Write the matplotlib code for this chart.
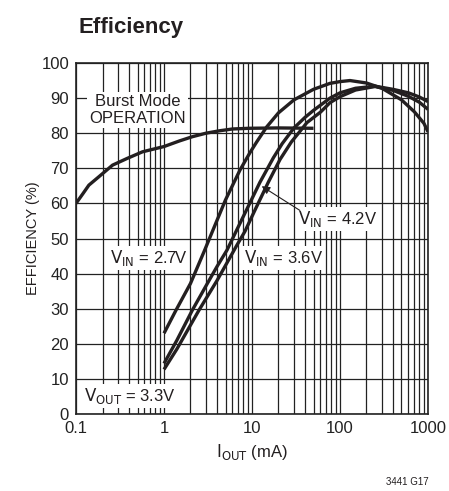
import numpy as np
import matplotlib
matplotlib.use("Agg")
import matplotlib.pyplot as plt
from matplotlib.ticker import FixedLocator, NullFormatter

# values (I_OUT in mA, efficiency in %)
burst_i = [0.1, 0.12, 0.14, 0.18, 0.26, 0.38, 0.57, 1, 1.5, 2.1, 3, 4.3, 6, 9.3, 20, 50]
burst_eff = [60, 62.8, 65.2, 67.5, 70.9, 72.8, 74.7, 76.2, 77.8, 79, 80, 80.7, 81.2, 81.4, 81.5, 81.4]

vin27_i = [1, 1.37, 2, 2.9, 3.6, 5, 7.3, 9.5, 11.3, 14.7, 20, 30, 50, 77, 100, 130, 200, 300, 500, 700, 900, 1000]
vin27_eff = [23, 29.6, 37.2, 46.7, 52.4, 61, 69.5, 74.5, 77.5, 81.8, 85.8, 89.5, 92.5, 94.2, 94.7, 95, 94.3, 92.8, 89.5, 86.1, 82.8, 80.4]

vin36_i = [1, 1.4, 2.1, 3, 4, 5.2, 6.7, 9, 12.3, 17.5, 22, 30, 40, 50, 77, 100, 150, 250, 400, 600, 800, 1000]
vin36_eff = [14.4, 21, 29.6, 36.5, 42, 46.7, 52.4, 59, 66, 73, 77, 81.5, 84.5, 86.5, 90, 91.5, 92.8, 93.4, 92.5, 91.5, 90.3, 89]

vin42_i = [1, 1.4, 2.5, 4, 6.7, 8.3, 11, 15.3, 20.8, 28, 35, 42, 60, 77, 100, 150, 250, 400, 600, 800, 1000]
vin42_eff = [12.7, 18.5, 29.6, 38, 48, 52, 58.5, 66, 72.5, 77.5, 80.5, 83, 86, 88.7, 90.4, 92.3, 93.3, 92.2, 90.5, 88.8, 86.8]

x_ticks = [0.1, 1, 10, 100, 1000]
x_tick_labels = ["0.1", "1", "10", "100", "1000"]
y_ticks = list(range(0, 101, 10))

plt.rcParams['font.family'] = ['Liberation Sans Narrow', 'Liberation Sans', 'DejaVu Sans']
plt.rcParams['mathtext.fontset'] = 'custom'
plt.rcParams['mathtext.rm'] = 'Liberation Sans Narrow'

fig = plt.figure(figsize=(4.49, 4.91), dpi=100)
ax = fig.add_axes([0.1693, 0.1568, 0.9532 - 0.1693, 0.8717 - 0.1568])

ax.set_xscale("log")
ax.set_xlim(0.1, 1000)
ax.set_ylim(0, 100)

minor = [m * 10.0 ** e for e in range(-1, 3) for m in range(2, 10)]
ax.xaxis.set_major_locator(FixedLocator(x_ticks))
ax.xaxis.set_minor_locator(FixedLocator(minor))
ax.xaxis.set_minor_formatter(NullFormatter())
ax.set_xticks(x_ticks)
ax.set_xticklabels(x_tick_labels)
ax.set_yticks(y_ticks)

ax.grid(True, which="both", axis="x", color="#222222", linewidth=0.9)
ax.grid(True, which="major", axis="y", color="#222222", linewidth=0.9)
ax.tick_params(which="both", length=0, labelsize=12, pad=5, colors="#222222")
for s in ax.spines.values():
    s.set_color("#222222")
    s.set_linewidth(1.2)

lw = 2.4
col = "#231f20"
ax.plot(burst_i, burst_eff, color=col, lw=lw, solid_capstyle="butt", zorder=3)
ax.plot(vin27_i, vin27_eff, color=col, lw=lw, solid_capstyle="butt", zorder=3)
ax.plot(vin36_i, vin36_eff, color=col, lw=lw, solid_capstyle="butt", zorder=3)
ax.plot(vin42_i, vin42_eff, color=col, lw=lw, solid_capstyle="butt", zorder=3)

box = dict(facecolor="white", edgecolor="none", pad=1.5)
ax.text(0.5, 86.7, "Burst Mode\nOPERATION", ha="center", va="center", fontsize=12,
        linespacing=1.15, bbox=box, zorder=4, color=col)
ax.text(0.67, 44.4, r"$\mathrm{V_{IN}}$ = 2.7V", ha="center", va="center", fontsize=12,
        bbox=box, zorder=4, color=col)
ax.text(23, 44.4, r"$\mathrm{V_{IN}}$ = 3.6V", ha="center", va="center", fontsize=12,
        bbox=box, zorder=4, color=col)
ax.text(95, 55.6, r"$\mathrm{V_{IN}}$ = 4.2V", ha="center", va="center", fontsize=12,
        bbox=box, zorder=4, color=col)
ax.text(0.41, 5.1, r"$\mathrm{V_{OUT}}$ = 3.3V", ha="center", va="center", fontsize=12,
        bbox=box, zorder=4, color=col)
ax.annotate("", xy=(12.9, 64.9), xytext=(35, 58),
            arrowprops=dict(arrowstyle="-|>", color=col, lw=0.8, mutation_scale=12,
                            shrinkA=0, shrinkB=0), zorder=4)

ax.set_xlabel(r"$\mathrm{I_{OUT}}$ (mA)", fontsize=12, color=col, labelpad=4)
ax.set_ylabel("EFFICIENCY (%)", fontsize=10.5, color=col, labelpad=1)

fig.text(0.174, 0.945, "Efficiency", fontsize=16, fontweight="bold", color=col, va="center")
fig.text(0.955, 0.018, "3441 G17", fontsize=7, color=col, ha="right", va="center")

fig.savefig("out.png", dpi=100)
